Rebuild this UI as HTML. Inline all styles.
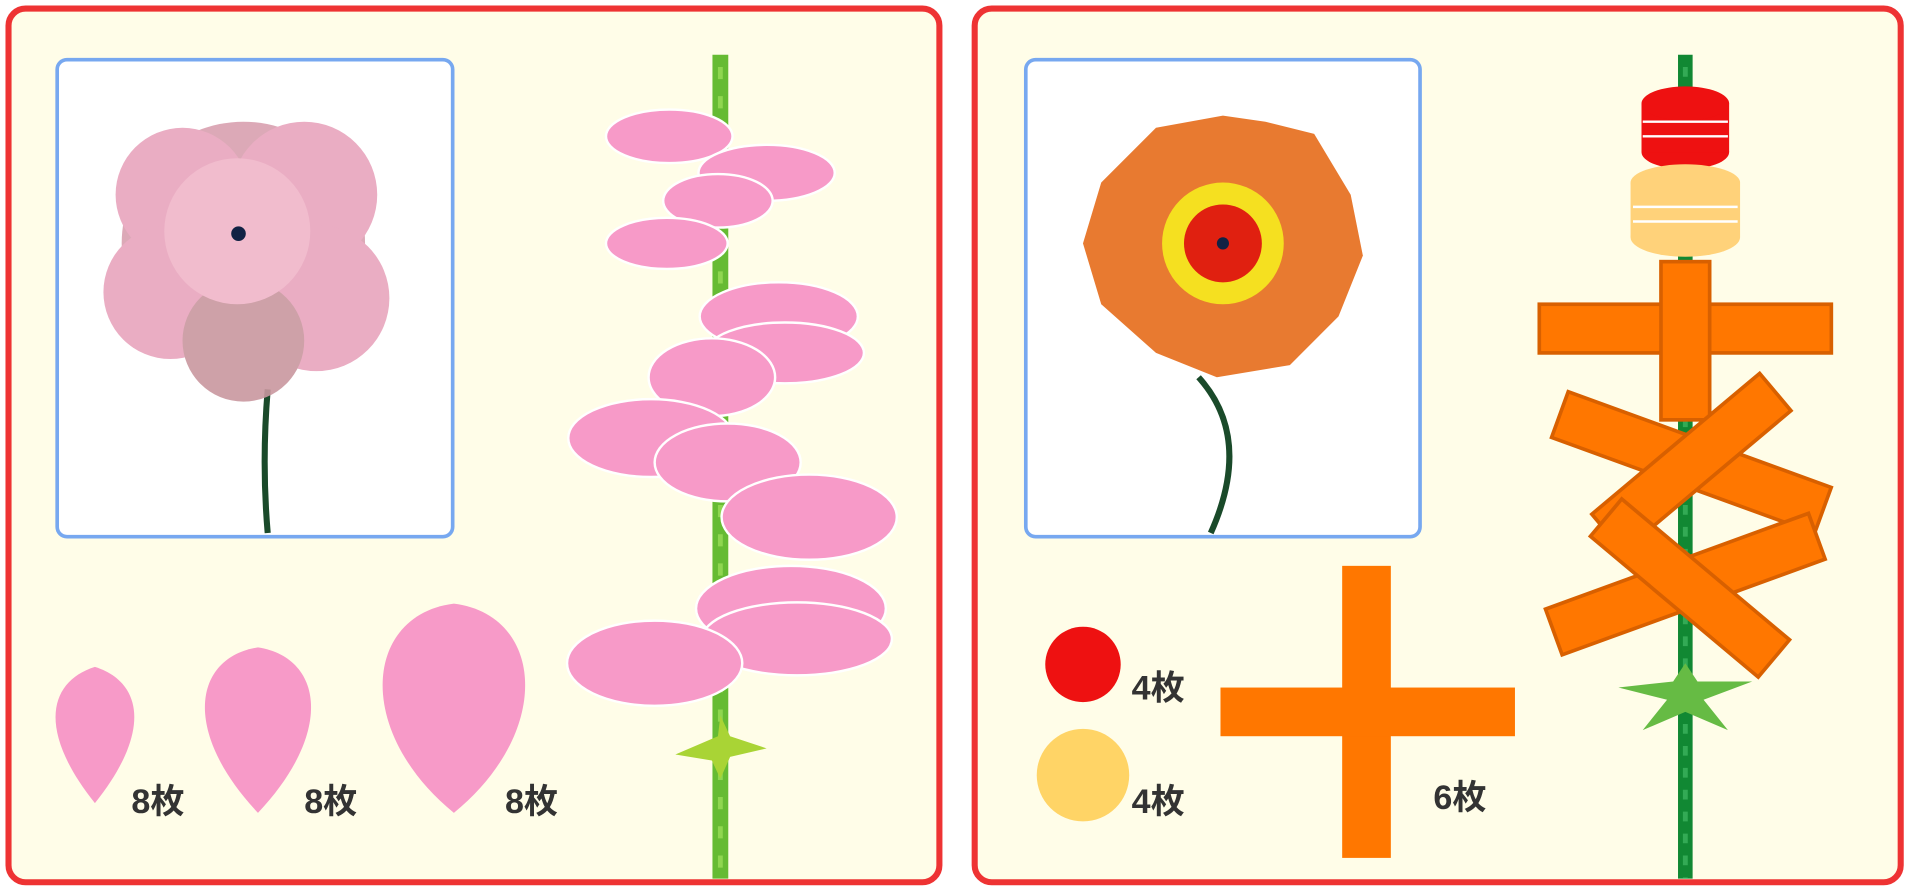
<!DOCTYPE html>
<html><head><meta charset="utf-8"><style>
html,body{margin:0;padding:0;background:#fff;width:1908px;height:892px;overflow:hidden}
svg{display:block}
text{font-family:"Liberation Sans","Noto Sans CJK JP",sans-serif;font-weight:bold;fill:#333;font-size:28px}
</style></head><body>
<svg width="1908" height="892" viewBox="0 0 1568 733" xmlns="http://www.w3.org/2000/svg">
<rect width="1568" height="733" fill="#fff"/>
<!-- panels -->
<rect x="7" y="7" width="765" height="718" rx="14" fill="#fffde8" stroke="#ee3333" stroke-width="5"/>
<rect x="801" y="7" width="761" height="718" rx="14" fill="#fffde8" stroke="#ee3333" stroke-width="5"/>
<!-- photo boxes -->
<rect x="47" y="49" width="325" height="392" rx="8" fill="#fff" stroke="#77a8f0" stroke-width="3"/>
<rect x="843" y="49" width="324" height="392" rx="8" fill="#fff" stroke="#77a8f0" stroke-width="3"/>
<!-- pink flower photo -->
<path d="M220 320 Q215 380 220 438" stroke="#1a4a2a" stroke-width="5" fill="none"/>
<g fill="#e8a5bd" opacity="0.9">
<circle cx="200" cy="200" r="100" fill="#d9a0b0"/>
<circle cx="150" cy="160" r="55"/><circle cx="250" cy="160" r="60"/>
<circle cx="140" cy="240" r="55"/><circle cx="260" cy="245" r="60"/>
<circle cx="200" cy="280" r="50" fill="#c9979f"/>
<circle cx="195" cy="190" r="60" fill="#f0b5c8"/>
</g>
<circle cx="196" cy="192" r="6" fill="#124"/>
<!-- orange flower photo -->
<path d="M985 310 Q1030 360 995 438" stroke="#1a4a2a" stroke-width="5" fill="none"/>
<g fill="#e87a30">
<polygon points="1005,95 1040,100 1080,110 1110,160 1120,210 1100,260 1060,300 1000,310 950,290 905,250 890,200 905,150 950,105"/>
</g>
<circle cx="1005" cy="200" r="50" fill="#f5e020"/>
<circle cx="1005" cy="200" r="32" fill="#e02010"/>
<circle cx="1005" cy="200" r="5" fill="#124"/>
<!-- left stem -->
<line x1="592" y1="45" x2="592" y2="722" stroke="#66bb33" stroke-width="13"/>
<line x1="592" y1="55" x2="592" y2="722" stroke="#8fd650" stroke-width="4" stroke-dasharray="10 14"/>
<!-- pink stacked petals -->
<g fill="#f79ac8" stroke="#fff" stroke-width="2">
<ellipse cx="550" cy="112" rx="52" ry="22"/>
<ellipse cx="630" cy="142" rx="56" ry="23"/>
<ellipse cx="590" cy="165" rx="45" ry="22"/>
<ellipse cx="548" cy="200" rx="50" ry="21"/>
<ellipse cx="640" cy="260" rx="65" ry="28"/>
<ellipse cx="645" cy="290" rx="65" ry="25"/>
<ellipse cx="585" cy="310" rx="52" ry="32"/>
<ellipse cx="535" cy="360" rx="68" ry="32"/>
<ellipse cx="598" cy="380" rx="60" ry="32"/>
<ellipse cx="665" cy="425" rx="72" ry="35"/>
<ellipse cx="650" cy="500" rx="78" ry="35"/>
<ellipse cx="655" cy="525" rx="78" ry="30"/>
<ellipse cx="538" cy="545" rx="72" ry="35"/>
</g>
<polygon points="555,620 590,605 592,588 600,605 630,615 600,622 592,640 585,625" fill="#a9d435"/>
<!-- petal shapes -->
<g fill="#f79ac8">
<path d="M78 548 C40 560 30 600 78 660 C126 600 116 560 78 548Z"/>
<path d="M212 532 C160 540 148 600 212 668 C276 600 264 540 212 532Z"/>
<path d="M373 496 C300 505 290 600 373 668 C456 600 446 505 373 496Z"/>
</g>
<text x="108" y="668">8枚</text>
<text x="250" y="668">8枚</text>
<text x="415" y="668">8枚</text>
<!-- right stem -->
<line x1="1385" y1="45" x2="1385" y2="722" stroke="#118833" stroke-width="12"/>
<line x1="1385" y1="55" x2="1385" y2="722" stroke="#33aa55" stroke-width="4" stroke-dasharray="8 10"/>
<g fill="#ee1111"><ellipse cx="1385" cy="125" rx="36" ry="14"/><rect x="1349" y="85" width="72" height="40"/><ellipse cx="1385" cy="85" rx="36" ry="14"/></g>
<g stroke="#fff" stroke-width="2"><line x1="1350" y1="100" x2="1420" y2="100"/><line x1="1350" y1="112" x2="1420" y2="112"/></g>
<g fill="#ffd27a"><ellipse cx="1385" cy="195" rx="45" ry="16"/><rect x="1340" y="150" width="90" height="45"/><ellipse cx="1385" cy="150" rx="45" ry="15"/></g>
<g stroke="#fff" stroke-width="2"><line x1="1342" y1="170" x2="1428" y2="170"/><line x1="1342" y1="182" x2="1428" y2="182"/></g>
<g fill="#ff7700" stroke="#d86000" stroke-width="3">
<rect x="1265" y="250" width="240" height="40"/><rect x="1365" y="215" width="40" height="130"/>
<rect x="1275" y="360" width="230" height="40" transform="rotate(20 1390 380)"/>
<rect x="1300" y="360" width="180" height="40" transform="rotate(-40 1390 380)"/>
<rect x="1270" y="460" width="230" height="40" transform="rotate(-20 1385 480)"/>
<rect x="1300" y="460" width="180" height="40" transform="rotate(40 1385 480)"/>
</g>
<polygon points="1330,565 1375,560 1385,545 1395,560 1440,560 1400,575 1420,600 1385,585 1350,600 1370,575" fill="#66bb44"/>
<!-- right shapes -->
<circle cx="890" cy="546" r="31" fill="#ee1111"/>
<circle cx="890" cy="637" r="38" fill="#ffd466"/>
<text x="930" y="575">4枚</text>
<text x="930" y="668">4枚</text>
<g fill="#ff7700">
<rect x="1103" y="465" width="40" height="240"/>
<rect x="1003" y="565" width="242" height="40"/>
</g>
<text x="1178" y="665">6枚</text>
</svg>
</body></html>
